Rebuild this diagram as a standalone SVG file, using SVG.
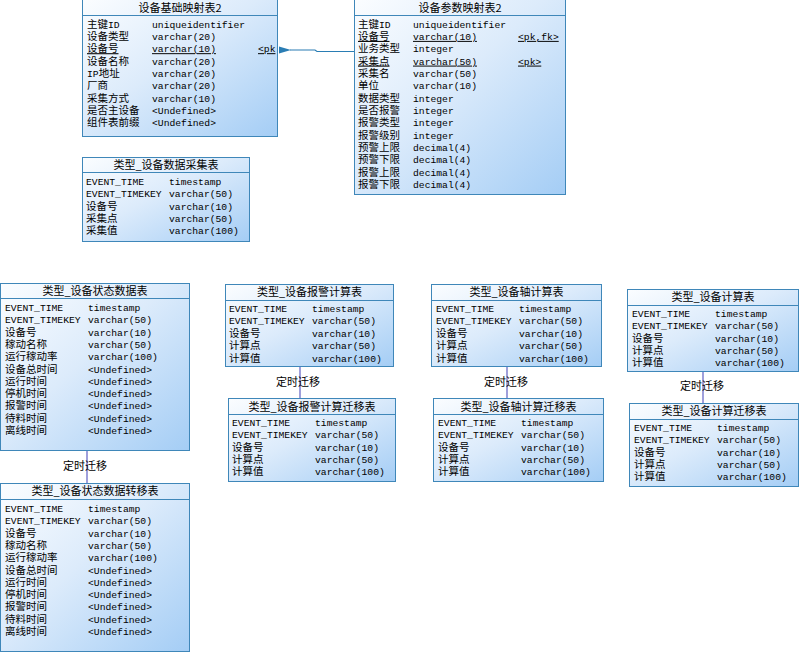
<svg xmlns="http://www.w3.org/2000/svg" width="800" height="653" viewBox="0 0 800 653">
<defs>
<linearGradient id="g" x1="0" y1="0" x2="1" y2="1">
<stop offset="0" stop-color="#fbfdff"/>
<stop offset="0.45" stop-color="#dcebfb"/>
<stop offset="1" stop-color="#a4cdf5"/>
</linearGradient>
<marker id="ah" viewBox="0 0 12 8" refX="1" refY="4" markerWidth="12" markerHeight="8" markerUnits="userSpaceOnUse" orient="auto">
<path d="M0,4 L12,0.5 L12,7.5 Z" fill="#2a7db4"/>
</marker>
<style>
.box{fill:url(#g);stroke:#3f87b9;stroke-width:1}
.hl{stroke:#3f87b9;stroke-width:1}
.t{font-family:"Noto Sans CJK SC","Noto Sans",sans-serif;font-size:11px;text-anchor:middle;fill:#000}
.c{font-family:"Liberation Mono","Noto Sans CJK SC",monospace;font-size:10.5px}
.m{font-family:"Liberation Mono","Noto Sans CJK SC",monospace;font-size:9.7px;fill:#000}
.u{text-decoration:underline}
.lk{stroke:#7f7fcf;stroke-width:1.5;fill:none}
.lb{font-family:"Noto Sans CJK SC","Noto Sans",sans-serif;font-size:11px;text-anchor:middle;fill:#000}
.fk{stroke:#2a7db4;stroke-width:1.2;fill:none}
</style>
</defs>
<rect width="800" height="653" fill="#ffffff"/>

<g id="connectors">
<path class="fk" d="M354,51.5 H317 L315,50 H290" marker-end="url(#ah)"/>
<line class="lk" x1="87" y1="450" x2="87" y2="483"/>
<line class="lk" x1="300" y1="367" x2="300" y2="399"/>
<line class="lk" x1="507" y1="367" x2="507" y2="399"/>
<line class="lk" x1="703" y1="371" x2="703" y2="403"/>
<text class="lb" x="85" y="470">定时迁移</text>
<text class="lb" x="298" y="386">定时迁移</text>
<text class="lb" x="506" y="386">定时迁移</text>
<text class="lb" x="702" y="390">定时迁移</text>
</g>

<g id="t_device_base">
<rect class="box" x="82.5" y="-0.5" width="195" height="137"/>
<line class="hl" x1="82.5" y1="15.5" x2="277.5" y2="15.5"/>
<text class="t" x="180" y="11.5">设备基础映射表2</text>
<text class="m"><tspan x="87" y="27.5"><tspan class="c">主键</tspan>ID</tspan><tspan class="c" x="87" y="39.9">设备类型</tspan><tspan class="c u" x="87" y="52.2">设备号</tspan><tspan class="c" x="87" y="64.6">设备名称</tspan><tspan x="87" y="76.9">IP<tspan class="c">地址</tspan></tspan><tspan class="c" x="87" y="89.3">厂商</tspan><tspan class="c" x="87" y="101.6">采集方式</tspan><tspan class="c" x="87" y="114">是否主设备</tspan><tspan class="c" x="87" y="126.3">组件表前缀</tspan></text>
<text class="m"><tspan x="152" y="27.5">uniqueidentifier</tspan><tspan x="152" y="39.9">varchar(20)</tspan><tspan class="u" x="152" y="52.2">varchar(10)</tspan><tspan x="152" y="64.6">varchar(20)</tspan><tspan x="152" y="76.9">varchar(20)</tspan><tspan x="152" y="89.3">varchar(20)</tspan><tspan x="152" y="101.6">varchar(10)</tspan><tspan x="152" y="114">&lt;Undefined&gt;</tspan><tspan x="152" y="126.3">&lt;Undefined&gt;</tspan></text>
<text class="m u" x="258" y="52.2">&lt;pk</text>
</g>

<g id="t_device_param">
<rect class="box" x="354.5" y="-0.5" width="211" height="195"/>
<line class="hl" x1="354.5" y1="15.5" x2="565.5" y2="15.5"/>
<text class="t" x="460" y="11.5">设备参数映射表2</text>
<text class="m"><tspan x="358" y="27.5"><tspan class="c">主键</tspan>ID</tspan><tspan class="c u" x="358" y="39.9">设备号</tspan><tspan class="c" x="358" y="52.2">业务类型</tspan><tspan class="c u" x="358" y="64.6">采集点</tspan><tspan class="c" x="358" y="76.9">采集名</tspan><tspan class="c" x="358" y="89.3">单位</tspan><tspan class="c" x="358" y="101.6">数据类型</tspan><tspan class="c" x="358" y="114">是否报警</tspan><tspan class="c" x="358" y="126.3">报警类型</tspan><tspan class="c" x="358" y="138.7">报警级别</tspan><tspan class="c" x="358" y="151">预警上限</tspan><tspan class="c" x="358" y="163.4">预警下限</tspan><tspan class="c" x="358" y="175.7">报警上限</tspan><tspan class="c" x="358" y="188.1">报警下限</tspan></text>
<text class="m"><tspan x="413" y="27.5">uniqueidentifier</tspan><tspan class="u" x="413" y="39.9">varchar(10)</tspan><tspan x="413" y="52.2">integer</tspan><tspan class="u" x="413" y="64.6">varchar(50)</tspan><tspan x="413" y="76.9">varchar(50)</tspan><tspan x="413" y="89.3">varchar(10)</tspan><tspan x="413" y="101.6">integer</tspan><tspan x="413" y="114">integer</tspan><tspan x="413" y="126.3">integer</tspan><tspan x="413" y="138.7">integer</tspan><tspan x="413" y="151">decimal(4)</tspan><tspan x="413" y="163.4">decimal(4)</tspan><tspan x="413" y="175.7">decimal(4)</tspan><tspan x="413" y="188.1">decimal(4)</tspan></text>
<text class="m u"><tspan x="518" y="39.9">&lt;pk,fk&gt;</tspan><tspan x="518" y="64.6">&lt;pk&gt;</tspan></text>
</g>

<g id="t_collect">
<rect class="box" x="82.5" y="157.5" width="167" height="84"/>
<line class="hl" x1="82.5" y1="172.5" x2="249.5" y2="172.5"/>
<text class="t" x="166" y="168.5">类型_设备数据采集表</text>
<text class="m"><tspan x="86" y="185">EVENT_TIME</tspan><tspan x="86" y="197.3">EVENT_TIMEKEY</tspan><tspan class="c" x="86" y="209.6">设备号</tspan><tspan class="c" x="86" y="221.9">采集点</tspan><tspan class="c" x="86" y="234.2">采集值</tspan></text>
<text class="m"><tspan x="169" y="185">timestamp</tspan><tspan x="169" y="197.3">varchar(50)</tspan><tspan x="169" y="209.6">varchar(10)</tspan><tspan x="169" y="221.9">varchar(50)</tspan><tspan x="169" y="234.2">varchar(100)</tspan></text>
</g>

<g id="t_status">
<rect class="box" x="0.5" y="283.5" width="189" height="167"/>
<line class="hl" x1="0.5" y1="298.5" x2="189.5" y2="298.5"/>
<text class="t" x="95" y="294.5">类型_设备状态数据表</text>
<text class="m"><tspan x="5" y="311">EVENT_TIME</tspan><tspan x="5" y="323.3">EVENT_TIMEKEY</tspan><tspan class="c" x="5" y="335.6">设备号</tspan><tspan class="c" x="5" y="347.9">稼动名称</tspan><tspan class="c" x="5" y="360.2">运行稼动率</tspan><tspan class="c" x="5" y="372.5">设备总时间</tspan><tspan class="c" x="5" y="384.8">运行时间</tspan><tspan class="c" x="5" y="397.1">停机时间</tspan><tspan class="c" x="5" y="409.4">报警时间</tspan><tspan class="c" x="5" y="421.7">待料时间</tspan><tspan class="c" x="5" y="434">离线时间</tspan></text>
<text class="m"><tspan x="88" y="311">timestamp</tspan><tspan x="88" y="323.3">varchar(50)</tspan><tspan x="88" y="335.6">varchar(10)</tspan><tspan x="88" y="347.9">varchar(50)</tspan><tspan x="88" y="360.2">varchar(100)</tspan><tspan x="88" y="372.5">&lt;Undefined&gt;</tspan><tspan x="88" y="384.8">&lt;Undefined&gt;</tspan><tspan x="88" y="397.1">&lt;Undefined&gt;</tspan><tspan x="88" y="409.4">&lt;Undefined&gt;</tspan><tspan x="88" y="421.7">&lt;Undefined&gt;</tspan><tspan x="88" y="434">&lt;Undefined&gt;</tspan></text>
</g>

<g id="t_status_move">
<rect class="box" x="0.5" y="483.5" width="189" height="168"/>
<line class="hl" x1="0.5" y1="499.5" x2="189.5" y2="499.5"/>
<text class="t" x="95" y="495">类型_设备状态数据转移表</text>
<text class="m"><tspan x="5" y="512">EVENT_TIME</tspan><tspan x="5" y="524.3">EVENT_TIMEKEY</tspan><tspan class="c" x="5" y="536.6">设备号</tspan><tspan class="c" x="5" y="548.9">稼动名称</tspan><tspan class="c" x="5" y="561.2">运行稼动率</tspan><tspan class="c" x="5" y="573.5">设备总时间</tspan><tspan class="c" x="5" y="585.8">运行时间</tspan><tspan class="c" x="5" y="598.1">停机时间</tspan><tspan class="c" x="5" y="610.4">报警时间</tspan><tspan class="c" x="5" y="622.7">待料时间</tspan><tspan class="c" x="5" y="635">离线时间</tspan></text>
<text class="m"><tspan x="88" y="512">timestamp</tspan><tspan x="88" y="524.3">varchar(50)</tspan><tspan x="88" y="536.6">varchar(10)</tspan><tspan x="88" y="548.9">varchar(50)</tspan><tspan x="88" y="561.2">varchar(100)</tspan><tspan x="88" y="573.5">&lt;Undefined&gt;</tspan><tspan x="88" y="585.8">&lt;Undefined&gt;</tspan><tspan x="88" y="598.1">&lt;Undefined&gt;</tspan><tspan x="88" y="610.4">&lt;Undefined&gt;</tspan><tspan x="88" y="622.7">&lt;Undefined&gt;</tspan><tspan x="88" y="635">&lt;Undefined&gt;</tspan></text>
</g>

<g id="t_alarm">
<rect class="box" x="225.5" y="284.5" width="168" height="82"/>
<line class="hl" x1="225.5" y1="300.5" x2="393.5" y2="300.5"/>
<text class="t" x="309.5" y="296">类型_设备报警计算表</text>
<text class="m"><tspan x="229" y="312">EVENT_TIME</tspan><tspan x="229" y="324.4">EVENT_TIMEKEY</tspan><tspan class="c" x="229" y="336.8">设备号</tspan><tspan class="c" x="229" y="349.2">计算点</tspan><tspan class="c" x="229" y="361.6">计算值</tspan></text>
<text class="m"><tspan x="312" y="312">timestamp</tspan><tspan x="312" y="324.4">varchar(50)</tspan><tspan x="312" y="336.8">varchar(10)</tspan><tspan x="312" y="349.2">varchar(50)</tspan><tspan x="312" y="361.6">varchar(100)</tspan></text>
</g>

<g id="t_alarm_move">
<rect class="box" x="228.5" y="398.5" width="167" height="83"/>
<line class="hl" x1="228.5" y1="414.5" x2="395.5" y2="414.5"/>
<text class="t" x="312" y="410.5">类型_设备报警计算迁移表</text>
<text class="m"><tspan x="232" y="426">EVENT_TIME</tspan><tspan x="232" y="438.3">EVENT_TIMEKEY</tspan><tspan class="c" x="232" y="450.6">设备号</tspan><tspan class="c" x="232" y="462.9">计算点</tspan><tspan class="c" x="232" y="475.2">计算值</tspan></text>
<text class="m"><tspan x="315" y="426">timestamp</tspan><tspan x="315" y="438.3">varchar(50)</tspan><tspan x="315" y="450.6">varchar(10)</tspan><tspan x="315" y="462.9">varchar(50)</tspan><tspan x="315" y="475.2">varchar(100)</tspan></text>
</g>

<g id="t_axis">
<rect class="box" x="431.5" y="284.5" width="170" height="82"/>
<line class="hl" x1="431.5" y1="300.5" x2="601.5" y2="300.5"/>
<text class="t" x="516.5" y="296">类型_设备轴计算表</text>
<text class="m"><tspan x="436" y="312">EVENT_TIME</tspan><tspan x="436" y="324.4">EVENT_TIMEKEY</tspan><tspan class="c" x="436" y="336.8">设备号</tspan><tspan class="c" x="436" y="349.2">计算点</tspan><tspan class="c" x="436" y="361.6">计算值</tspan></text>
<text class="m"><tspan x="519" y="312">timestamp</tspan><tspan x="519" y="324.4">varchar(50)</tspan><tspan x="519" y="336.8">varchar(10)</tspan><tspan x="519" y="349.2">varchar(50)</tspan><tspan x="519" y="361.6">varchar(100)</tspan></text>
</g>

<g id="t_axis_move">
<rect class="box" x="433.5" y="398.5" width="170" height="83"/>
<line class="hl" x1="433.5" y1="414.5" x2="603.5" y2="414.5"/>
<text class="t" x="518.5" y="410.5">类型_设备轴计算迁移表</text>
<text class="m"><tspan x="438" y="426">EVENT_TIME</tspan><tspan x="438" y="438.3">EVENT_TIMEKEY</tspan><tspan class="c" x="438" y="450.6">设备号</tspan><tspan class="c" x="438" y="462.9">计算点</tspan><tspan class="c" x="438" y="475.2">计算值</tspan></text>
<text class="m"><tspan x="521" y="426">timestamp</tspan><tspan x="521" y="438.3">varchar(50)</tspan><tspan x="521" y="450.6">varchar(10)</tspan><tspan x="521" y="462.9">varchar(50)</tspan><tspan x="521" y="475.2">varchar(100)</tspan></text>
</g>

<g id="t_calc">
<rect class="box" x="627.5" y="289.5" width="171" height="82"/>
<line class="hl" x1="627.5" y1="305.5" x2="798.5" y2="305.5"/>
<text class="t" x="713" y="301">类型_设备计算表</text>
<text class="m"><tspan x="632" y="317">EVENT_TIME</tspan><tspan x="632" y="329.3">EVENT_TIMEKEY</tspan><tspan class="c" x="632" y="341.6">设备号</tspan><tspan class="c" x="632" y="353.9">计算点</tspan><tspan class="c" x="632" y="366.2">计算值</tspan></text>
<text class="m"><tspan x="715" y="317">timestamp</tspan><tspan x="715" y="329.3">varchar(50)</tspan><tspan x="715" y="341.6">varchar(10)</tspan><tspan x="715" y="353.9">varchar(50)</tspan><tspan x="715" y="366.2">varchar(100)</tspan></text>
</g>

<g id="t_calc_move">
<rect class="box" x="629.5" y="403.5" width="169" height="83"/>
<line class="hl" x1="629.5" y1="419.5" x2="798.5" y2="419.5"/>
<text class="t" x="714" y="415">类型_设备计算迁移表</text>
<text class="m"><tspan x="634" y="431">EVENT_TIME</tspan><tspan x="634" y="443.3">EVENT_TIMEKEY</tspan><tspan class="c" x="634" y="455.6">设备号</tspan><tspan class="c" x="634" y="467.9">计算点</tspan><tspan class="c" x="634" y="480.2">计算值</tspan></text>
<text class="m"><tspan x="717" y="431">timestamp</tspan><tspan x="717" y="443.3">varchar(50)</tspan><tspan x="717" y="455.6">varchar(10)</tspan><tspan x="717" y="467.9">varchar(50)</tspan><tspan x="717" y="480.2">varchar(100)</tspan></text>
</g>
</svg>
